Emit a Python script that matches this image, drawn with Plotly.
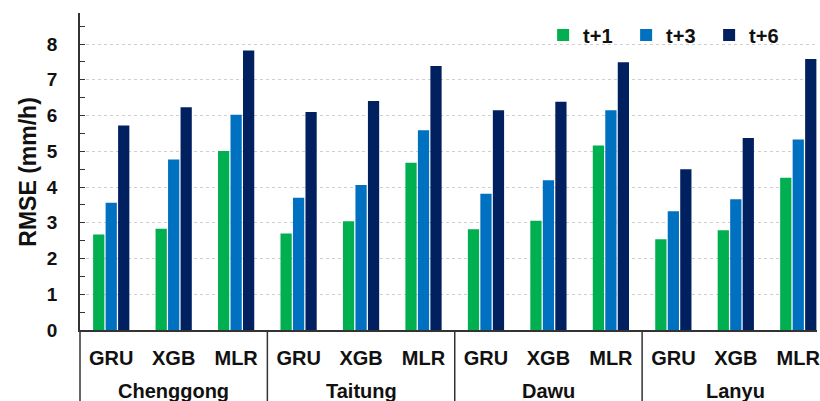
import plotly.graph_objects as go

# RMSE of rainfall forecasts by station, model and lead time
stations = ["Chenggong", "Taitung", "Dawu", "Lanyu"]
models = ["GRU", "XGB", "MLR"]
horizons = ["t+1", "t+3", "t+6"]

rmse_t1 = [2.67, 2.83, 5.01, 2.70, 3.04, 4.68, 2.82, 3.06, 5.16, 2.54, 2.79, 4.26]
rmse_t3 = [3.56, 4.77, 6.02, 3.70, 4.06, 5.59, 3.81, 4.19, 6.15, 3.32, 3.66, 5.33]
rmse_t6 = [5.72, 6.23, 7.82, 6.10, 6.41, 7.39, 6.15, 6.39, 7.49, 4.50, 5.37, 7.58]

series = [rmse_t1, rmse_t3, rmse_t6]
colors = ["#00B050", "#0070C0", "#002060"]

n_models = len(models)
positions = list(range(len(stations) * n_models))
tick_text = models * len(stations)

x_range = [-0.5, 11.3]
y_range = [0, 8.87]

FONT = "Arial, 'Liberation Sans', sans-serif"
INK = "#111111"

fig = go.Figure()
for name, vals, col in zip(horizons, series, colors):
    fig.add_trace(go.Bar(x=positions, y=vals, name=name, marker_color=col,
                         marker_line_width=0))


def to_paper(v):
    return (v - x_range[0]) / (x_range[1] - x_range[0])


shapes = []
# left axis extended down through the label rows
shapes.append(dict(type="line", xref="paper", yref="paper", x0=0, x1=0,
                   y0=0, y1=-0.35, line=dict(color="#333333", width=1.5)))
# station group separators
for g in range(1, len(stations)):
    xp = to_paper(g * n_models - 0.5)
    shapes.append(dict(type="line", xref="paper", yref="paper", x0=xp, x1=xp,
                       y0=0, y1=-0.35, line=dict(color="#333333", width=1.5)))

annotations = []
for g, st in enumerate(stations):
    annotations.append(dict(x=g * n_models + (n_models - 1) / 2, xref="x",
                            y=-0.192, yref="paper", yanchor="middle",
                            text=st, showarrow=False,
                            font=dict(family=FONT, size=20, color=INK,
                                      weight="bold")))
annotations.append(dict(x=-53 / 740, xref="paper", y=0.5, yref="paper",
                        xanchor="center", yanchor="middle", textangle=-90,
                        text="RMSE (mm/h)", showarrow=False,
                        font=dict(family=FONT, size=23, color=INK,
                                  weight="bold")))

fig.update_layout(
    width=820, height=401,
    margin=dict(l=80, r=0, t=13, b=71),
    paper_bgcolor="white", plot_bgcolor="white",
    barmode="group", bargap=0.4, bargroupgap=0.1,
    showlegend=True,
    legend=dict(orientation="h", x=(545 - 80) / 740, xanchor="left",
                y=(330 - 35) / 317, yanchor="middle",
                font=dict(family=FONT, size=20, color=INK, weight="bold"),
                bgcolor="rgba(0,0,0,0)", itemwidth=30, traceorder="normal",
                entrywidth=38, entrywidthmode="pixels"),
    shapes=shapes,
    annotations=annotations,
    xaxis=dict(range=x_range, tickmode="array", tickvals=positions,
               ticktext=tick_text, ticks="", showgrid=False, zeroline=False,
               showline=True, linecolor="#333333", linewidth=1.5,
               ticklabelstandoff=9, ticklabeloverflow="allow",
               tickfont=dict(family=FONT, size=20, color=INK, weight="bold")),
    yaxis=dict(range=y_range, dtick=1, tick0=0, ticks="inside", ticklen=5,
               tickcolor="#333333", showline=True, linecolor="#333333",
               linewidth=1.5, zeroline=False,
               showgrid=True, gridcolor="#cfcfcf", griddash="dot", gridwidth=1,
               minor=dict(dtick=0.5, ticks="inside", ticklen=5,
                          tickcolor="#333333", showgrid=False),
               ticklabelstandoff=17,
               tickfont=dict(family=FONT, size=19, color=INK, weight="bold")),
)

fig.write_html("out.html")
